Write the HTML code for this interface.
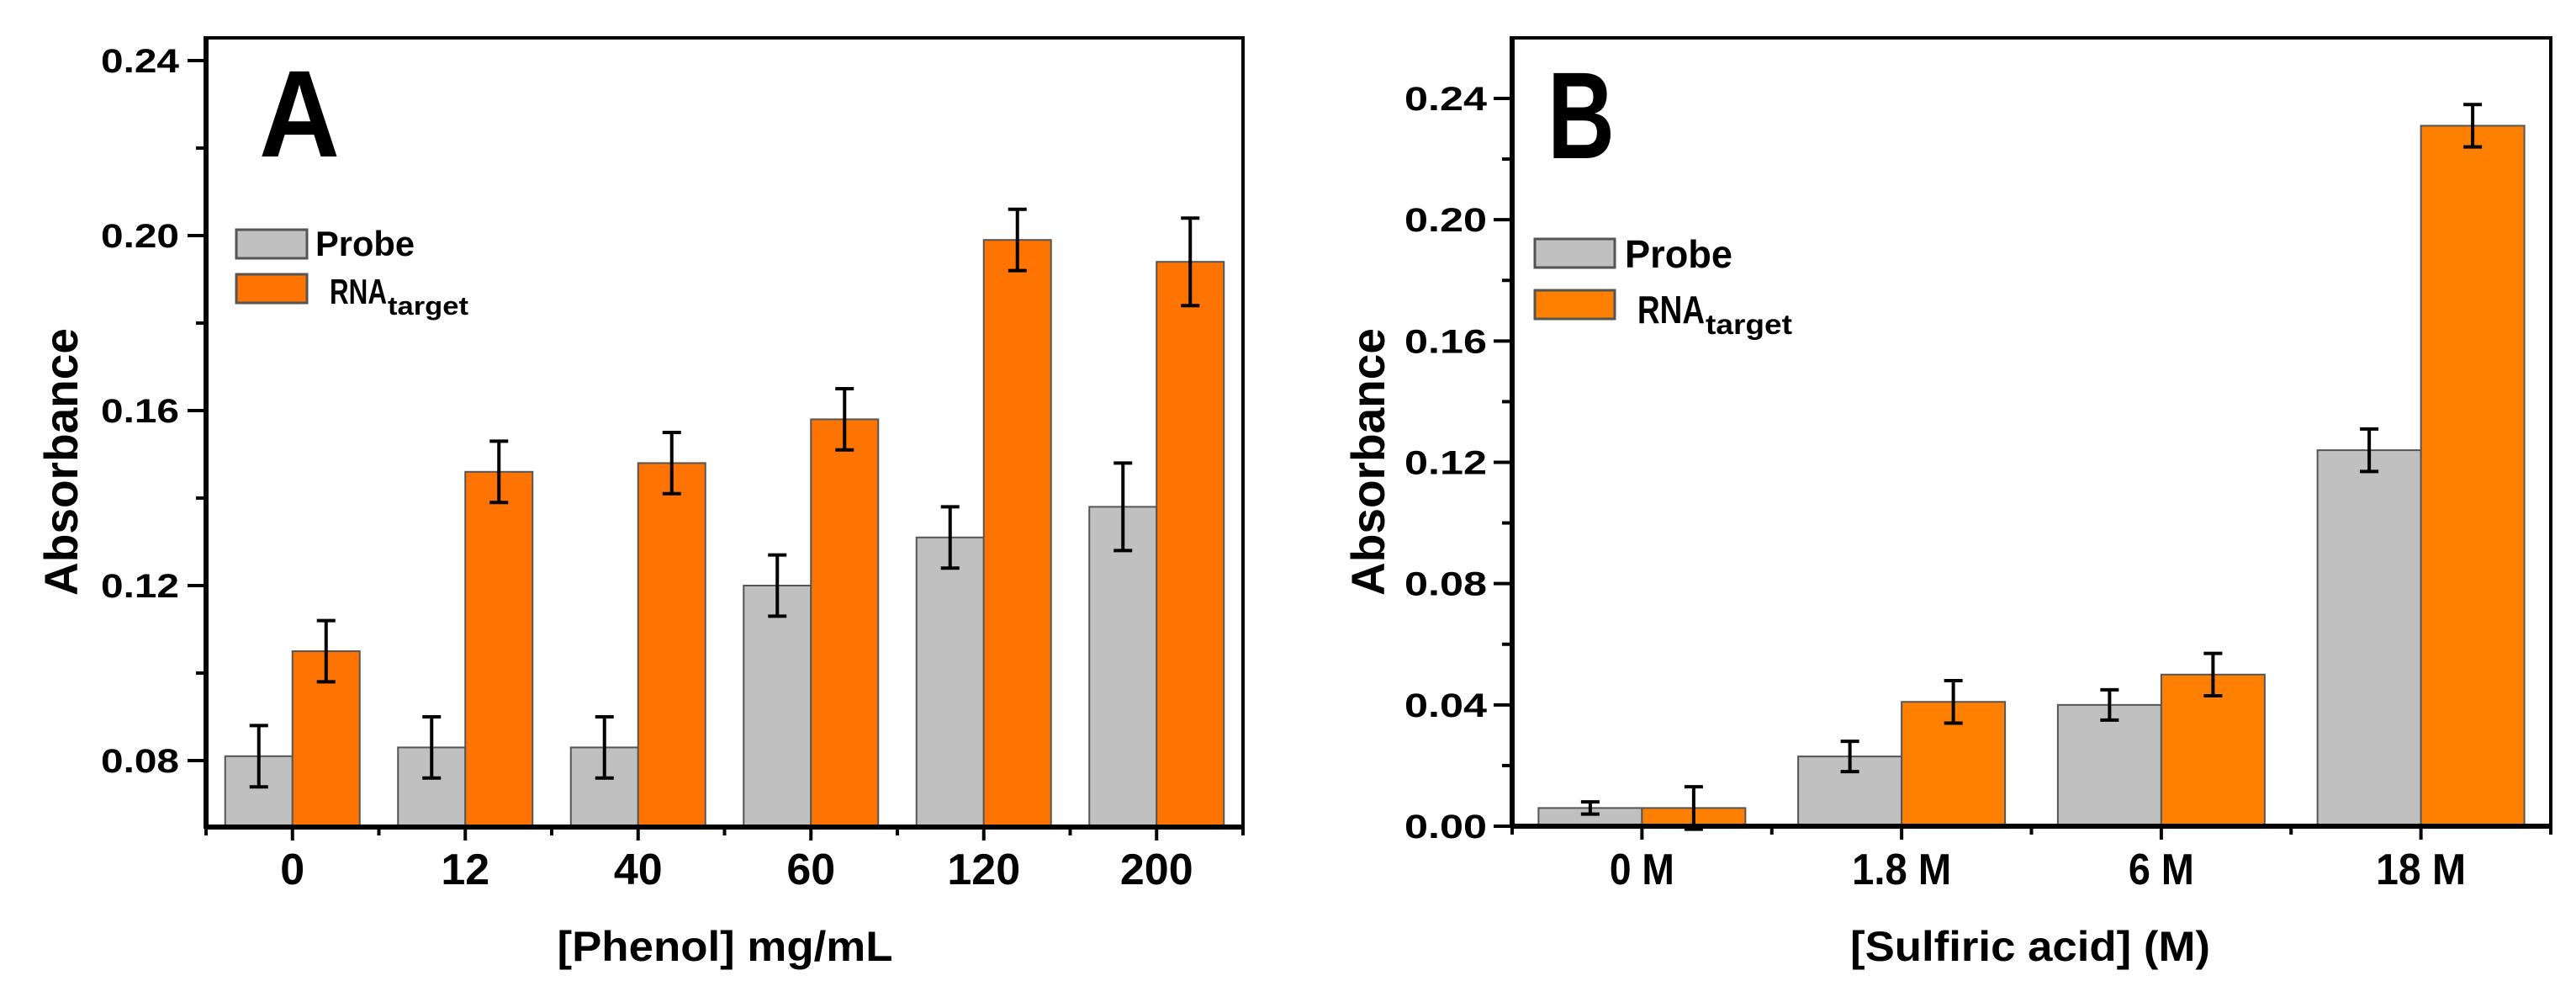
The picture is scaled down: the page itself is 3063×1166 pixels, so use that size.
<!DOCTYPE html>
<html><head><meta charset="utf-8"><style>
html,body{margin:0;padding:0;background:#fff;}
svg{display:block;}
text{font-family:"Liberation Sans",Arial,sans-serif;font-weight:bold;fill:#000;}
</style></head><body>
<svg id="fig" width="3063" height="1166" viewBox="0 0 3063 1166" xmlns="http://www.w3.org/2000/svg"></svg>
<script>
// Panel A data
const catsA = ["0","12","40","60","120","200"];
const probeA = [0.081,0.083,0.083,0.120,0.131,0.138];
const probeErrA = [0.007,0.007,0.007,0.007,0.007,0.010];
const rnaA = [0.105,0.146,0.148,0.158,0.199,0.194];
const rnaErrA = [0.007,0.007,0.007,0.007,0.007,0.010];
const yTicksA = [0.08,0.12,0.16,0.20,0.24];
const yTickLabelsA = ["0.08","0.12","0.16","0.20","0.24"];
// Panel B data
const catsB = ["0 M","1.8 M","6 M","18 M"];
const probeB = [0.006,0.023,0.040,0.124];
const probeErrB = [0.002,0.005,0.005,0.007];
const rnaB = [0.006,0.041,0.050,0.231];
const rnaErrB = [0.007,0.007,0.007,0.007];
const yTicksB = [0.00,0.04,0.08,0.12,0.16,0.20,0.24];
const yTickLabelsB = ["0.00","0.04","0.08","0.12","0.16","0.20","0.24"];

const NS="http://www.w3.org/2000/svg";
const svg=document.getElementById('fig');
function mk(tag,attrs,parent){const e=document.createElementNS(NS,tag);for(const k in attrs)e.setAttribute(k,attrs[k]);(parent||svg).appendChild(e);return e;}
function txt(parent,s,x,y,size,anchor,len){const t=mk('text',{x:x,y:y,'font-size':size,'text-anchor':anchor||'start'},parent);if(len){t.setAttribute('textLength',len);t.setAttribute('lengthAdjust','spacingAndGlyphs');}t.textContent=s;return t;}

function panel(cfg){
  const g=mk('g',{});
  
  
  const y=v=>cfg.y0px-(v-cfg.y0)/(cfg.y1-cfg.y0)*(cfg.y0px-cfg.y1px);
  const n=cfg.cats.length;
  const step=(cfg.xRight-cfg.xLeft)/n;
  const cx=i=>cfg.xLeft+step*(i+0.5);
  const bw=cfg.bw;
  const fr=mk('rect',{x:cfg.xLeft,y:cfg.top,width:cfg.xRight-cfg.xLeft,height:cfg.bottom-cfg.top,fill:'none',stroke:'#000','stroke-width':4},g);
  
  
  for(let i=0;i<n;i++){
    const series=[[cfg.probe,cfg.probeErr,'#c0c0c0',cx(i)-bw,'probe'],[cfg.rna,cfg.rnaErr,cfg.orange,cx(i),'rna-target']];
    series.forEach(s=>{
      const v=s[0][i],e=s[1][i],x=s[3];
      const r=mk('rect',{x:x,y:y(v),width:bw,height:cfg.bottom-y(v),fill:s[2],stroke:'#555','stroke-width':2},g);
      
      
      const m=x+bw/2;
      const eb=mk('path',{d:`M${m},${y(v+e)}V${y(v-e)}M${m-11},${y(v+e)}H${m+11}M${m-11},${y(v-e)}H${m+11}`,stroke:'#000','stroke-width':4,fill:'none'},g);
      
      
    });
  }
  mk('line',{x1:cfg.xLeft,y1:cfg.top-2,x2:cfg.xLeft,y2:cfg.bottom+2,stroke:'#000','stroke-width':6},g);
  mk('line',{x1:cfg.xLeft-2,y1:cfg.bottom,x2:cfg.xRight+2,y2:cfg.bottom,stroke:'#000','stroke-width':6},g);
  const yt=mk('g',{},g);
  
  
  cfg.yTicks.forEach((v,i)=>{
    const p=y(v);
    mk('line',{x1:cfg.xLeft-22,y1:p,x2:cfg.xLeft,y2:p,stroke:'#000','stroke-width':4},yt);
    const mv=v+(cfg.yTicks[1]-cfg.yTicks[0])/2;
    if(y(mv)>cfg.top+5) mk('line',{x1:cfg.xLeft-12,y1:y(mv),x2:cfg.xLeft,y2:y(mv),stroke:'#000','stroke-width':4},yt);
    const t=txt(yt,cfg.yLabels[i],cfg.yLabelRight,p+14,40,'end',cfg.yLabelW);
    
    
  });
  for(let i=0;i<=n;i++){ const bx=cfg.xLeft+step*i; mk('line',{x1:bx,y1:cfg.bottom,x2:bx,y2:cfg.bottom+10,stroke:'#000','stroke-width':4},g);}
  for(let i=0;i<n;i++){
    mk('line',{x1:cx(i),y1:cfg.bottom,x2:cx(i),y2:cfg.bottom+16,stroke:'#000','stroke-width':4},g);
    const t=txt(g,cfg.cats[i],cx(i),1051,52,'middle',cfg.xLabelW?cfg.xLabelW[i]:null);
    
    
  }
  return g;
}

const gA=panel({name:'panel-a',cats:catsA,probe:probeA,probeErr:probeErrA,rna:rnaA,rnaErr:rnaErrA,orange:'#ff7300',
  yTicks:yTicksA,yLabels:yTickLabelsA,y0:0.08,y1:0.24,y0px:904,y1px:72,xLeft:245,xRight:1478,top:45,bottom:983,bw:80,
  yLabelRight:213,yLabelW:93,xLabelW:null});
const gB=panel({name:'panel-b',cats:catsB,probe:probeB,probeErr:probeErrB,rna:rnaB,rnaErr:rnaErrB,orange:'#ff8000',
  yTicks:yTicksB,yLabels:yTickLabelsB,y0:0.00,y1:0.24,y0px:982,y1px:117,xLeft:1798,xRight:3033,top:45,bottom:982,bw:123,
  yLabelRight:1768,yLabelW:98,xLabelW:[77,118,78,107]});

let t;
t=txt(gA,'A',308,186,147,'start',96);  
t=txt(gB,'B',1840,188,147,'start',80);  

function legend(parent,x,y1,y2,bw,bh,orange,px,py,rx,ry,pw,rw,sw,fs){
  const lg=mk('g',{},parent);
  
  
  const a=mk('rect',{x:x,y:y1,width:bw,height:bh,fill:'#c0c0c0',stroke:'#555','stroke-width':3},lg);
  
  
  const b=mk('rect',{x:x,y:y2,width:bw,height:bh,fill:orange,stroke:'#555','stroke-width':3},lg);
  
  
  let t1=txt(lg,'Probe',px,py,fs,'start',pw);  
  let t2=txt(lg,'RNA',rx,ry,fs,'start',rw);  
  let t3=txt(lg,'target',rx+rw+1,ry+13,fs*0.72,'start',sw);  
}
legend(gA,281,273,326,84,34,'#ff7300',375,304,392,361,118,68,96,42);
legend(gB,1825,284,345,95,34,'#ff8000',1932,318,1947,384,128,80,103,46);

function ytitle(parent,x,y,len){
  const tt=mk('text',{x:0,y:0,'font-size':56,'text-anchor':'middle',transform:`translate(${x},${y}) rotate(-90)`,textLength:len,lengthAdjust:'spacingAndGlyphs'},parent);
  tt.textContent='Absorbance';
  
  
}
ytitle(gA,92,549,318);
ytitle(gB,1646,549,318);
t=txt(gA,'[Phenol] mg/mL',862,1142,50,'middle',399);  
t=txt(gB,'[Sulfiric acid] (M)',2414,1142,50,'middle',428);  
</script>
</body></html>
